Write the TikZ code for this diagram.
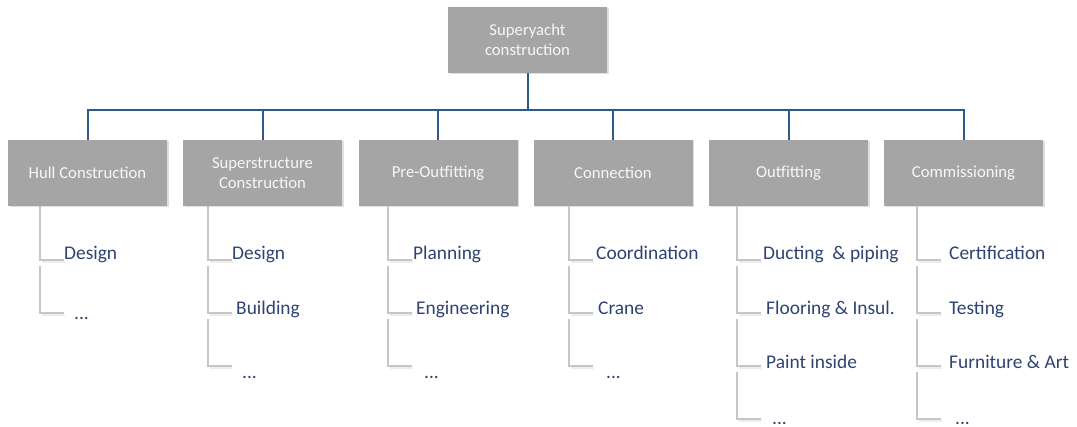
\documentclass[tikz,border=0pt]{standalone}
\usepackage{fontspec}
\setmainfont{Carlito}
\usetikzlibrary{shadows}
\definecolor{boxgray}{HTML}{A5A5A5}
\definecolor{conblue}{HTML}{2C5A8A}
\definecolor{txtblue}{HTML}{2E4372}
\definecolor{leafgray}{HTML}{C6C6C6}
\begin{document}
\begin{tikzpicture}[x=1pt,y=-1pt,
  wbsbox/.style={fill=boxgray, minimum width=159pt, minimum height=66pt, inner sep=0pt, align=center,
    text=white!94!gray, font=\fontsize{16.7}{19.5}\selectfont,
    drop shadow={shadow xshift=1.5pt,shadow yshift=-1.5pt,opacity=0.25,fill=gray}},
  conn/.style={draw=conblue, line width=2pt},
  leafline/.style={draw=leafgray, line width=2pt},
  leafshadow/.style={draw=black!7, line width=2pt},
  leaf/.style={anchor=base west, inner sep=0pt, text=txtblue, font=\fontsize{19.4}{23}\selectfont}]
\useasboundingbox (0,0) rectangle (1077,427);

% boxes
\node[wbsbox] (top) at (527.5,40) {Superyacht\\construction};
\node[wbsbox] (hull) at (87.5,173) {Hull Construction};
\node[wbsbox] (sup)  at (262.5,173) {Superstructure\\Construction};
\node[wbsbox] (pre)  at (438,173) {Pre-Outfitting};
\node[wbsbox] (con)  at (613,173) {Connection};
\node[wbsbox] (out)  at (788.5,173) {Outfitting};
\node[wbsbox] (com)  at (963.5,173) {Commissioning};

% blue connectors
\coordinate (bar) at (527.5,110);
\draw[conn] (top.south) -- (bar);
\foreach \b in {hull,sup,pre,con,out,com}{
  \draw[conn] (bar) -| (\b.north);
}

% leaf lines
\foreach \vx/\n in {40/2,208/3,388/3,569/3,737/4,917/4}{
  \draw[leafshadow] (\vx+1.5,262) -- (\vx+25,262);
  \draw[leafline] (\vx,206) |- (\vx+24,260);
  \foreach \i in {2,...,\n}{
    \draw[leafshadow] (\vx+1.5,{207+53*\i+2}) -- (\vx+25,{207+53*\i+2});
    \draw[leafline] (\vx,{207+53*(\i-1)+6}) |- (\vx+24,{207+53*\i});
  }
}

% leaves
\node[leaf] (h1) at (64,260) {Design};
\node[leaf] (h2) at (74,320) {...};

\node[leaf] (s1) at (232,260) {Design};
\node[leaf] (s2) at (236,315) {Building};
\node[leaf] (s3) at (242,379) {...};

\node[leaf] (p1) at (413,260) {Planning};
\node[leaf] (p2) at (416,315) {Engineering};
\node[leaf] (p3) at (424,379) {...};

\node[leaf] (c1) at (596,260) {Coordination};
\node[leaf] (c2) at (598,315) {Crane};
\node[leaf] (c3) at (606,379) {...};

\node[leaf] (o1) at (763,260) {Ducting\ \ \& piping};
\node[leaf] (o2) at (766,315) {Flooring \& Insul.};
\node[leaf] (o3) at (766,369) {Paint inside};
\node[leaf] (o4) at (772,424.5) {...};

\node[leaf] (m1) at (949,260) {Certification};
\node[leaf] (m2) at (949,315) {Testing};
\node[leaf] (m3) at (949,369) {Furniture \& Art};
\node[leaf] (m4) at (955,424.5) {...};
\end{tikzpicture}
\end{document}
